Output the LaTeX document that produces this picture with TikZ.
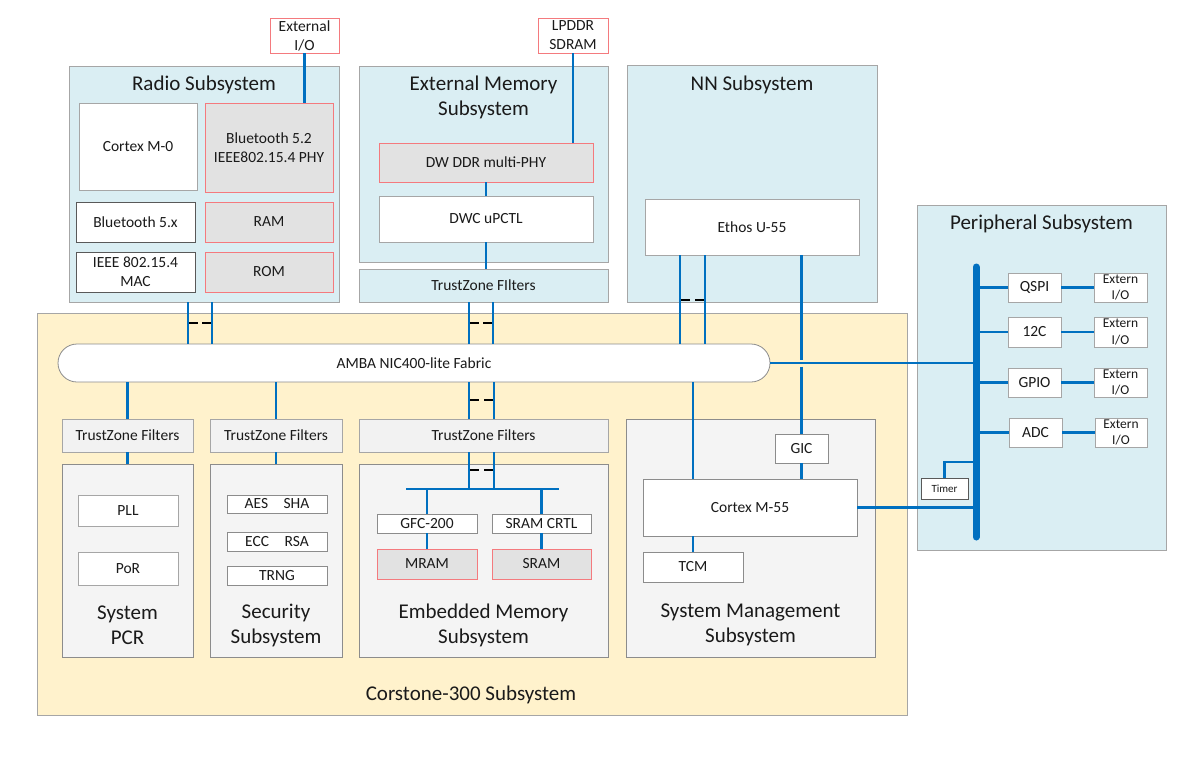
\documentclass[tikz,border=0pt]{standalone}
\usepackage{fontspec}
\setmainfont{Carlito}
\usetikzlibrary{calc}
\definecolor{lblue}{HTML}{DAEEF3}
\definecolor{lyel}{HTML}{FFF2CC}
\definecolor{lgray}{HTML}{F2F2F2}
\definecolor{sgray}{HTML}{F4F4F4}
\definecolor{gfill}{HTML}{E2E2E2}
\definecolor{redb}{HTML}{F47A7E}
\definecolor{bord}{HTML}{A6A6A6}
\definecolor{dbord}{HTML}{595959}
\definecolor{mbord}{HTML}{8C8C8C}
\definecolor{lineblue}{HTML}{0070C0}
\definecolor{txt}{HTML}{1A1A1A}
\newcommand\dashpair[3]{\draw[dsh] (#1+1,#3) -- ++(9,0); \draw[dsh] (#2-1,#3) -- ++(-9,0);}
\begin{document}
\begin{tikzpicture}[x=1pt,y=-1pt,
  sz/.style 2 args={minimum width=#1pt, minimum height=#2pt},
  bx/.style={draw=bord, line width=0.8pt, inner sep=0pt, outer sep=0pt, align=center, text=txt, font=\fontsize{15.5}{19}\selectfont},
  wbox/.style={bx, fill=white},
  gbox/.style={bx, fill=gfill, draw=redb},
  rbox/.style={bx, fill=white, draw=redb},
  small/.style={font=\fontsize{13.5}{16.5}\selectfont},
  subb/.style={draw=bord, line width=0.8pt, inner sep=0pt, outer sep=0pt},
  ttl/.style={font=\fontsize{21}{25}\selectfont, align=center, text=txt, inner sep=0pt},
  bl/.style={draw=lineblue, line width=2.8pt},
  dsh/.style={draw=black, line width=1.1pt}]
\useasboundingbox[fill=white] (0,0) rectangle (1200,761);

% ---------- Radio subsystem ----------
\node[subb, fill=lblue, sz={270}{236}] (Radio) at (204,184) {};
\node[ttl] (RadioT) at (204,85) {Radio Subsystem};
\node[rbox, sz={69}{35}] (ExtIO) at (304.5,35.5) {External\\I/O};
\node[wbox, sz={118}{87}] (CM0) at (138,146.5) {Cortex M-0};
\node[gbox, sz={128}{89}] (BTPHY) at (269,147.5) {Bluetooth 5.2\\IEEE802.15.4 PHY};
\node[wbox, draw=dbord, sz={119}{40}] (BT5x) at (135.5,222) {Bluetooth 5.x};
\node[gbox, sz={128}{40}] (RAM) at (269,222) {RAM};
\node[wbox, draw=dbord, sz={119}{40}] (MAC) at (135.5,272) {IEEE 802.15.4\\MAC};
\node[gbox, sz={128}{40}] (ROM) at (269,272) {ROM};

% ---------- External memory subsystem ----------
\node[subb, fill=lblue, sz={249}{196}] (ExtMem) at (483.5,164) {};
\node[ttl] (ExtMemT) at (483.5,97.5) {External Memory\\Subsystem};
\node[rbox, sz={70}{35}] (LPDDR) at (573,35.5) {LPDDR\\SDRAM};
\node[gbox, sz={214}{39}] (DDRPHY) at (486,162.5) {DW DDR multi-PHY};
\node[wbox, sz={214}{46}] (UPCTL) at (486,219) {DWC uPCTL};
\node[bx, fill=lblue, sz={249}{33}] (TZ0) at (483.5,285.5) {TrustZone FIlters};

% ---------- NN subsystem ----------
\node[subb, fill=lblue, sz={250}{237}] (NN) at (752,183.5) {};
\node[ttl] (NNT) at (752,85) {NN Subsystem};
\node[wbox, sz={214}{56}] (Ethos) at (752,227) {Ethos U-55};

% ---------- Peripheral subsystem ----------
\node[subb, fill=lblue, sz={249}{345}] (Periph) at (1041.5,377.5) {};
\node[ttl] (PeriphT) at (1041.5,224) {Peripheral Subsystem};
\coordinate (BusT) at (976,267);
\coordinate (BusB) at (976,537);
\node[wbox, sz={53}{29}] (QSPI) at (1034.5,287.5) {QSPI};
\node[wbox, small, sz={53}{29}] (EQ) at (1120.5,287.5) {Extern\\I/O};
\node[wbox, sz={53}{30}] (I2C) at (1034.5,332) {12C};
\node[wbox, small, sz={53}{30}] (EI) at (1120.5,332) {Extern\\I/O};
\node[wbox, sz={53}{29}] (GPIO) at (1034.5,382.5) {GPIO};
\node[wbox, small, sz={53}{29}] (EG) at (1120.5,382.5) {Extern\\I/O};
\node[wbox, sz={53}{29}] (ADC) at (1035.5,432.5) {ADC};
\node[wbox, small, sz={52}{29}] (EA) at (1121,432.5) {Extern\\I/O};
\node[wbox, draw=dbord, font=\fontsize{11}{13}\selectfont, sz={47}{21}] (Timer) at (944.5,488.5) {Timer};

% ---------- Corstone-300 ----------
\node[subb, fill=lyel, sz={870}{402}] (Corst) at (472,514) {};
\node[ttl] (CorstT) at (471,695) {Corstone-300 Subsystem};
\node[bx, fill=white, draw=mbord, rounded corners=19pt, sz={712}{38}] (Fab) at (414,363) {AMBA NIC400-lite Fabric};

\node[bx, fill=lgray, sz={131}{33}] (TZ1) at (127.5,435.5) {TrustZone Filters};
\node[subb, draw=mbord, fill=sgray, sz={131}{193}] (PCR) at (127.5,560.5) {};
\node[wbox, sz={100}{31}] (PLL) at (128,510.5) {PLL};
\node[wbox, sz={100}{33}] (PoR) at (128,568.5) {PoR};
\node[ttl] (PCRT) at (127.5,625.5) {System\\PCR};

\node[bx, fill=lgray, sz={132}{33}] (TZ2) at (276,435.5) {TrustZone Filters};
\node[subb, draw=mbord, fill=sgray, sz={132}{193}] (Sec) at (276,560.5) {};
\node[wbox, draw=mbord, sz={100}{18}] (AES) at (277,504) {AES\hspace{1em}SHA};
\node[wbox, draw=mbord, sz={100}{19}] (ECC) at (277,541.5) {ECC\hspace{1em}RSA};
\node[wbox, draw=mbord, sz={100}{19}] (TRNG) at (277,575.5) {TRNG};
\node[ttl] (SecT) at (276,625.5) {Security\\Subsystem};

\node[bx, fill=lgray, sz={249}{33}] (TZ3) at (483.5,435.5) {TrustZone Filters};
\node[subb, draw=mbord, fill=sgray, sz={249}{193}] (Emb) at (483.5,560.5) {};
\node[wbox, draw=mbord, sz={100}{19}] (GFC) at (427,523.5) {GFC-200};
\node[wbox, draw=mbord, sz={99}{19}] (SRAMC) at (541.5,523.5) {SRAM CRTL};
\node[gbox, sz={100}{30}] (MRAM) at (427,564) {MRAM};
\node[gbox, sz={99}{30}] (SRAM) at (541.5,564) {SRAM};
\node[ttl] (EmbT) at (483.5,625) {Embedded Memory\\Subsystem};
\coordinate (EB1) at (406,489);
\coordinate (EB2) at (559,489);

\node[subb, draw=mbord, fill=sgray, sz={249}{238}] (SysM) at (750.5,538) {};
\node[wbox, draw=mbord, sz={53}{29}] (GIC) at (801.5,448.5) {GIC};
\node[wbox, draw=mbord, sz={214}{57}] (M55) at (750,507.5) {Cortex M-55};
\node[wbox, draw=mbord, sz={100}{30}] (TCM) at (693,567) {TCM};
\node[ttl] (SysMT) at (750.5,624.5) {System Management\\Subsystem};

% ---------- connectors ----------
\draw[bl] (ExtIO.south) -- (ExtIO.south |- BTPHY.north);
\draw[bl] (LPDDR.south) -- (LPDDR.south |- DDRPHY.north);
\draw[bl] (DDRPHY.south) -- (UPCTL.north);
\draw[bl] (UPCTL.south) -- (UPCTL.south |- TZ0.north);

\draw[bl] ([xshift=-16pt]Radio.south) -- ([xshift=-16pt]Radio.south |- Fab.north);
\draw[bl] ([xshift=8pt]Radio.south) -- ([xshift=8pt]Radio.south |- Fab.north);
\dashpair{188}{212}{323}
\draw[bl] ([xshift=-14.5pt]TZ0.south) -- ([xshift=-14.5pt]TZ0.south |- Fab.north);
\draw[bl] ([xshift=9.5pt]TZ0.south) -- ([xshift=9.5pt]TZ0.south |- Fab.north);
\dashpair{469}{493}{323}

\draw[bl] ([xshift=-72pt]Ethos.south) -- ([xshift=-72pt]Ethos.south |- Fab.north);
\draw[bl] ([xshift=-47pt]Ethos.south) -- ([xshift=-47pt]Ethos.south |- Fab.north);
\dashpair{680}{705}{300}
\coordinate (hopA) at (801.5,360);
\coordinate (hopB) at (801.5,366.5);
\draw[bl] (GIC.north |- Ethos.south) -- (hopA);
\draw[bl] (hopB) -- (GIC.north);

\draw[bl] (TZ1.north |- Fab.south) -- (TZ1.north);
\draw[bl] (TZ1.south) -- (PCR.north);
\draw[bl] (TZ2.north |- Fab.south) -- (TZ2.north);
\draw[bl] (TZ2.south) -- (Sec.north);

\draw[bl] ([xshift=-14.5pt]TZ3.north |- Fab.south) -- ([xshift=-14.5pt]TZ3.north);
\draw[bl] ([xshift=10.5pt]TZ3.north |- Fab.south) -- ([xshift=10.5pt]TZ3.north);
\dashpair{469}{494}{400}
\draw[bl] ([xshift=-14.5pt]TZ3.south) -- ([xshift=-14.5pt]TZ3.south |- EB1);
\draw[bl] ([xshift=10.5pt]TZ3.south) -- ([xshift=10.5pt]TZ3.south |- EB1);
\dashpair{469}{494}{470}
\draw[bl] (EB1) -- (EB2);
\draw[bl] (GFC.north |- EB1) -- (GFC.north);
\draw[bl] (SRAMC.north |- EB1) -- (SRAMC.north);
\draw[bl] (GFC.south) -- (MRAM.north);
\draw[bl] (SRAMC.south) -- (SRAM.north);

\draw[bl] ([xshift=-57pt]M55.north |- Fab.south) -- ([xshift=-57pt]M55.north);
\draw[bl] (GIC.south) -- (GIC.south |- M55.north);
\draw[bl] (TCM.north |- M55.south) -- (TCM.north);

\draw[bl] (Fab.east) -- (Fab.east -| BusT);
\draw[bl] (M55.east) -- (M55.east -| BusT);
\draw[draw=lineblue, line width=7pt, line cap=round] (BusT) -- (BusB);
\draw[bl] (QSPI.west -| BusT) -- (QSPI.west);
\draw[bl] (I2C.west -| BusT) -- (I2C.west);
\draw[bl] (GPIO.west -| BusT) -- (GPIO.west);
\draw[bl] (ADC.west -| BusT) -- (ADC.west);
\draw[bl] (QSPI.east) -- (EQ.west);
\draw[bl] (I2C.east) -- (EI.west);
\draw[bl] (GPIO.east) -- (EG.west);
\draw[bl] (ADC.east) -- (EA.west);
\coordinate (TimJ) at (944.5,462);
\draw[bl] (Timer.north) -- (TimJ) -- (TimJ -| BusT);
\end{tikzpicture}
\end{document}
